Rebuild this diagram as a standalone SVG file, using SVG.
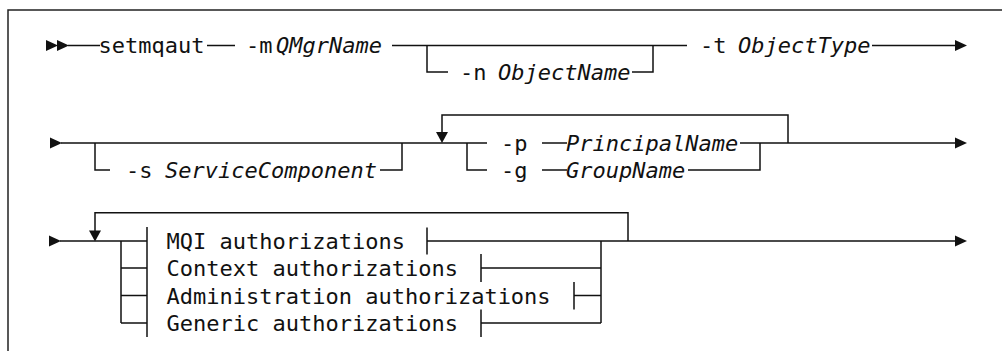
<svg xmlns="http://www.w3.org/2000/svg" xmlns:xlink="http://www.w3.org/1999/xlink" width="1002" height="351" viewBox="0 0 1002 351">
<style>
  .t { font-family: "DejaVu Sans Mono", "Liberation Mono", monospace; font-size: 22px; fill: #111; }
  .i { font-style: italic; }
  .ln { fill: none; stroke: #111; stroke-width: 1.5; }
  .frame { fill: none; stroke: #222; stroke-width: 1.5; }
  .ah { fill: #111; stroke: none; }
</style>
<defs>
  <path id="ar" class="ah" d="M-12,-5.5 L0,0 L-12,5.5 Z"/>
  <path id="ad" class="ah" d="M-6,-11 L0,0 L6,-11 Z"/>
</defs>
<rect width="1002" height="351" fill="#fff"/>
<path class="frame" d="M8,351 V10 H1002"/>

<g id="connectors">
  <!-- row 1 -->
  <use xlink:href="#ar" x="58" y="45.5"/>
  <use xlink:href="#ar" x="69" y="45.5"/>
  <path class="ln" d="M68,45.5 H100 M207,45.5 H235 M392,45.5 H687 M872,45.5 H956"/>
  <path class="ln" d="M427,45.5 V72 H448 M632,72 H653 V45.5"/>
  <use xlink:href="#ar" x="967" y="45.5"/>
  <!-- row 2 -->
  <use xlink:href="#ar" x="62" y="143"/>
  <path class="ln" d="M61,143 H487 M542,143 H567 M740,143 H956"/>
  <path class="ln" d="M95,143 V170 H110 M380,170 H402 V143"/>
  <path class="ln" d="M467,143 V170 H487 M542,170 H567 M688,170 H760 V143"/>
  <path class="ln" d="M442,133 V115 H788 V143"/>
  <use xlink:href="#ad" x="442" y="143"/>
  <use xlink:href="#ar" x="967" y="143"/>
  <!-- row 3 -->
  <use xlink:href="#ar" x="61" y="241"/>
  <path class="ln" d="M60,241 H147 M121,241 V323 M121,268 H147 M121,295.5 H147 M121,323 H147"/>
  <path class="ln" d="M147,227 V337"/>
  <path class="ln" d="M95,232 V212.7 H628 V241"/>
  <use xlink:href="#ad" x="95" y="241.5"/>
  <path class="ln" d="M427,227.5 V254.5 M427,241 H956"/>
  <path class="ln" d="M481,254 V282 M481,268 H601"/>
  <path class="ln" d="M574,282 V309.5 M574,295.5 H601"/>
  <path class="ln" d="M481,309.5 V337 M481,323 H601"/>
  <path class="ln" d="M601,241 V323"/>
  <use xlink:href="#ar" x="967" y="241"/>
</g>

<g id="cmd"><text class="t" x="98.5" y="53">setmqaut</text></g>
<g id="opt-m"><text class="t" x="246" y="53">-m</text><text class="t i" x="276" y="53">QMgrName</text></g>
<g id="opt-n"><text class="t" x="460" y="79.5">-n</text><text class="t i" x="498" y="79.5">ObjectName</text></g>
<g id="opt-t"><text class="t" x="700" y="53">-t</text><text class="t i" x="738" y="53">ObjectType</text></g>
<g id="opt-s"><text class="t" x="126" y="177.5">-s</text><text class="t i" x="165" y="177.5">ServiceComponent</text></g>
<g id="opt-p"><text class="t" x="501" y="150.5">-p</text><text class="t i" x="566" y="150.5">PrincipalName</text></g>
<g id="opt-g"><text class="t" x="501" y="177.5">-g</text><text class="t i" x="566" y="177.5">GroupName</text></g>
<g id="mqi"><text class="t" x="166.5" y="248.5">MQI authorizations</text></g>
<g id="context"><text class="t" x="166.5" y="276">Context authorizations</text></g>
<g id="admin"><text class="t" x="166.5" y="303.5">Administration authorizations</text></g>
<g id="generic"><text class="t" x="166.5" y="331">Generic authorizations</text></g>
</svg>
